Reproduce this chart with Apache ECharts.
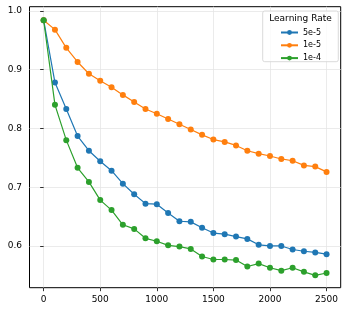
<!DOCTYPE html>
<html>
<head>
<meta charset="utf-8">
<script src="https://cdn.jsdelivr.net/npm/echarts@6/dist/echarts.min.js"></script>
<style>html,body{margin:0;padding:0;background:#fff}#c{width:349px;height:312px}</style>
</head>
<body>
<div id="c"></div>
<script>
const steps = [0,100,200,300,400,500,600,700,800,900,1000,1100,1200,1300,1400,1500,1600,1700,1800,1900,2000,2100,2200,2300,2400,2500];
const lr5e5 = [0.984,0.878,0.833,0.787,0.762,0.744,0.728,0.706,0.688,0.672,0.671,0.656,0.642,0.641,0.631,0.622,0.620,0.616,0.612,0.602,0.600,0.600,0.594,0.591,0.589,0.586];
const lr1e5 = [0.984,0.968,0.937,0.913,0.893,0.881,0.870,0.857,0.845,0.833,0.825,0.816,0.807,0.798,0.789,0.781,0.777,0.771,0.762,0.757,0.753,0.748,0.745,0.737,0.735,0.726];
const lr1e4 = [0.984,0.840,0.780,0.733,0.709,0.678,0.661,0.636,0.629,0.613,0.608,0.601,0.599,0.595,0.582,0.577,0.577,0.576,0.565,0.570,0.563,0.558,0.563,0.556,0.550,0.554];
const xTicks = [0,500,1000,1500,2000,2500];
const yTicks = [0.6,0.7,0.8,0.9,1.0];
const names = ['5e-5','1e-5','1e-4'];
const colors = ['#1f77b4','#ff7f0e','#2ca02c'];
const FONT = 'DejaVu Sans';

const chart = echarts.init(document.getElementById('c'), null, {renderer:'canvas'});
function mk(name, vals, color, z){
  return {
    name, type:'line', data: steps.map((s,i)=>[s,vals[i]]),
    symbol:'circle', symbolSize:6, showSymbol:true,
    lineStyle:{color, width:1.2}, itemStyle:{color}, z,
    animation:false
  };
}
chart.setOption({
  animation:false,
  grid:{left:29.5, right:8.3, top:6.7, bottom:24.3, show:true, borderColor:'#000', borderWidth:1, containLabel:false},
  xAxis:{type:'value', min:-125, max:2625,
    axisLine:{show:false},
    axisTick:{show:true, length:3.5, inside:false, lineStyle:{color:'#000', width:0.8}, customValues:xTicks},
    axisLabel:{show:true, margin:7.5, fontSize:9, color:'#000', fontFamily:FONT, customValues:xTicks, formatter:v=>String(v)},
    splitLine:{show:true, lineStyle:{color:'#e6e6e6', width:0.8}}
  },
  yAxis:{type:'value', min:0.529, max:1.007,
    axisLine:{show:false},
    axisTick:{show:true, length:3.5, inside:false, lineStyle:{color:'#000', width:0.8}, customValues:yTicks},
    axisLabel:{show:true, margin:7.5, fontSize:9, color:'#000', fontFamily:FONT, customValues:yTicks, formatter:v=>v.toFixed(1)},
    splitLine:{show:true, lineStyle:{color:'#e6e6e6', width:0.8}}
  },
  legend:{
    data:names, orient:'vertical', left:280, top:28.5, itemWidth:17, itemHeight:6, itemGap:4.8,
    textStyle:{fontSize:8, color:'#000', fontFamily:FONT}, padding:0, z:100, zlevel:0
  },
  graphic:[
    {type:'rect', shape:{x:262.7, y:11, width:75.6, height:50.7, r:2}, style:{fill:'rgba(255,255,255,0.8)', stroke:'#d0d0d0', lineWidth:0.8}, z:50},
    {type:'text', x:300.5, y:18.3, style:{text:'Learning Rate', fontSize:9, fontFamily:FONT, fill:'#000', align:'center', verticalAlign:'middle'}, z:51}
  ],
  series:[mk(names[0], lr5e5, colors[0], 2), mk(names[1], lr1e5, colors[1], 3), mk(names[2], lr1e4, colors[2], 4)]
});
</script>
</body>
</html>
